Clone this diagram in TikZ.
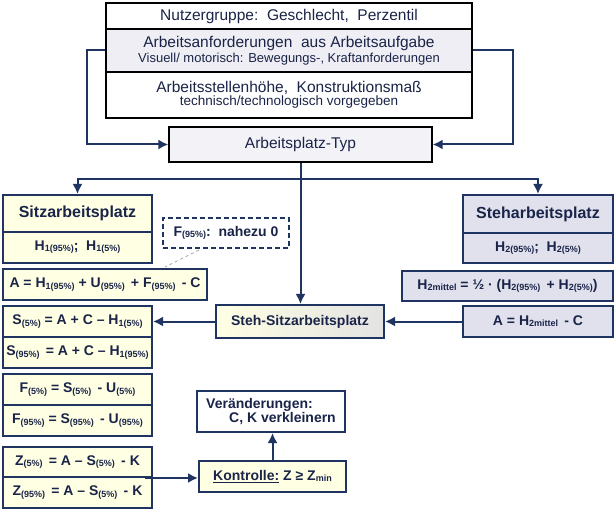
\documentclass[tikz,border=0pt]{standalone}
\usepackage{fontspec}
\setmainfont{Liberation Sans}
\usetikzlibrary{arrows.meta,calc}
\definecolor{navy}{RGB}{31,52,96}
\definecolor{txt}{RGB}{26,36,72}
\definecolor{sitzfill}{RGB}{255,255,228}
\definecolor{stehfill}{RGB}{225,225,238}
\definecolor{topfill}{RGB}{238,238,244}
\definecolor{typfill}{RGB}{243,243,247}
\newcommand\fs[1]{\fontsize{#1}{#1}\selectfont}
\newcommand\sbx[1]{\raisebox{-1.2pt}{\fs{9}#1}}
\tikzset{
  topbox/.style={draw=black, line width=1.2pt, text=txt, inner sep=0pt, align=center, minimum width=366pt},
  nbox/.style={draw=navy, line width=2pt, text=txt, font=\bfseries\fs{14}, inner sep=0pt, align=center},
  sz/.style={nbox, fill=sitzfill},
  st/.style={nbox, fill=stehfill},
  arr/.style={draw=navy, line width=2pt, -{Latex[length=10pt,width=10pt]}},
}
\begin{document}
\begin{tikzpicture}[x=1pt,y=-1pt]
\fill[white] (0,0) rectangle (615,510);
\useasboundingbox (0,0) rectangle (615,510);
% top stack
\node[topbox, minimum height=26pt, fill=white] (top1) at (289,16) {\fs{15.5}Nutzergruppe:\ \ Geschlecht,\ \ Perzentil};
\node[topbox, minimum height=43pt, fill=topfill] (top2) at (289,50.5) {\fs{15.5}Arbeitsanforderungen\ \ aus Arbeitsaufgabe\\[1pt]\fs{13}Visuell/ motorisch: Bewegungs-, Kraftanforderungen};
\node[topbox, minimum height=46pt, fill=white] (top3) at (289,95) {\fs{15.5}Arbeitsstellenhöhe,\ \ Konstruktionsmaß\\[1pt]\fs{13.5}technisch/technologisch vorgegeben};
\node[topbox, minimum width=263pt, minimum height=35pt, fill=typfill] (typ) at (300.5,144.5) {\fs{15.5}Arbeitsplatz-Typ};
% left column
\node[sz, minimum width=149pt, minimum height=37pt, font=\bfseries\fs{16}] (sitz) at (77.5,213.5) {Sitzarbeitsplatz};
\node[sz, minimum width=149pt, minimum height=31pt] (h1) at (77.5,247.5) {H\sbx{1(95\%)};\ \ H\sbx{1(5\%)}};
\node[sz, minimum width=204pt, minimum height=31pt] (aeq) at (105,284.5) {A = H\sbx{1(95\%)} + U\sbx{(95\%)}\, + F\sbx{(95\%)}\, - C};
\node[sz, minimum width=149pt, minimum height=31pt] (s5) at (77.5,321.5) {S\sbx{(5\%)} = A + C -- H\sbx{1(5\%)}};
\node[sz, minimum width=149pt, minimum height=31pt] (s95) at (77.5,352.5) {S\sbx{(95\%)}\, = A + C -- H\sbx{1(95\%)}};
\node[sz, minimum width=149pt, minimum height=31pt] (f5) at (77.5,389.5) {F\sbx{(5\%)} = S\sbx{(5\%)}\, - U\sbx{(5\%)}};
\node[sz, minimum width=149pt, minimum height=31pt] (f95) at (77.5,420.5) {F\sbx{(95\%)} = S\sbx{(95\%)}\, - U\sbx{(95\%)}};
\node[sz, minimum width=149pt, minimum height=30pt] (z5) at (77.5,462) {Z\sbx{(5\%)}\, = A -- S\sbx{(5\%)}\, - K};
\node[sz, minimum width=149pt, minimum height=31pt] (z95) at (77.5,492.5) {Z\sbx{(95\%)}\, = A -- S\sbx{(5\%)}\, - K};
\node[nbox, fill=white, dash pattern=on 5pt off 3pt, minimum width=126pt, minimum height=30pt] (fd) at (226,233) {F\sbx{(95\%)}:\ \ nahezu 0};
% right column
\node[st, minimum width=150pt, minimum height=38pt, font=\bfseries\fs{16}] (steh) at (538,214) {Steharbeitsplatz};
\node[st, minimum width=150pt, minimum height=30pt] (h2) at (538,248) {H\sbx{2(95\%)};\ \ H\sbx{2(5\%)}};
\node[st, minimum width=211pt, minimum height=30pt] (h2m) at (507.5,286) {H\sbx{2mittel} = ½ · (H\sbx{2(95\%)}\, + H\sbx{2(5\%)})};
\node[st, minimum width=150pt, minimum height=31pt] (a2) at (538,321.5) {A = H\sbx{2mittel}\, - C};
% middle
\node[nbox, left color=sitzfill, right color=gray!22, minimum width=168pt, minimum height=33pt] (ss) at (300,321.5) {Steh-Sitzarbeitsplatz};
\node[sz, minimum width=147pt, minimum height=31pt] (kontr) at (272.5,476.5) {\underline{Kontrolle:} Z ≥ Z\sbx{min}};
\node[nbox, fill=white, minimum width=148pt, minimum height=41pt, align=left] (ver) at (271,411.5) {Veränderungen:\\\hspace*{23pt}C, K verkleinern};
% connectors
\draw[arr] (top2.west) -- ++(-18,0) |- (typ.west);
\draw[arr] (top2.east) -- ++(40,0) |- (typ.east);
\coordinate (sp) at ($(typ.south)+(0,16)$);
\draw[arr] (typ.south) -- (ss.north -| typ.south);
\draw[arr] (sp) -| (sitz.north);
\draw[arr] (sp) -| (steh.north);
\draw[arr] (a2.west) -- (ss.east);
\draw[arr] (ss.west) -- (s5.east);
\draw[gray!70, line width=0.8pt, dashed] ($(fd.south)+(-27,1)$) -- ($(aeq.north)+(60,-1)$);
\draw[arr] (z5.south east) ++(-8,0) -- (kontr.west |- z5.south east);
\draw[arr] (kontr.north) -- (kontr.north |- ver.south);
\end{tikzpicture}
\end{document}
